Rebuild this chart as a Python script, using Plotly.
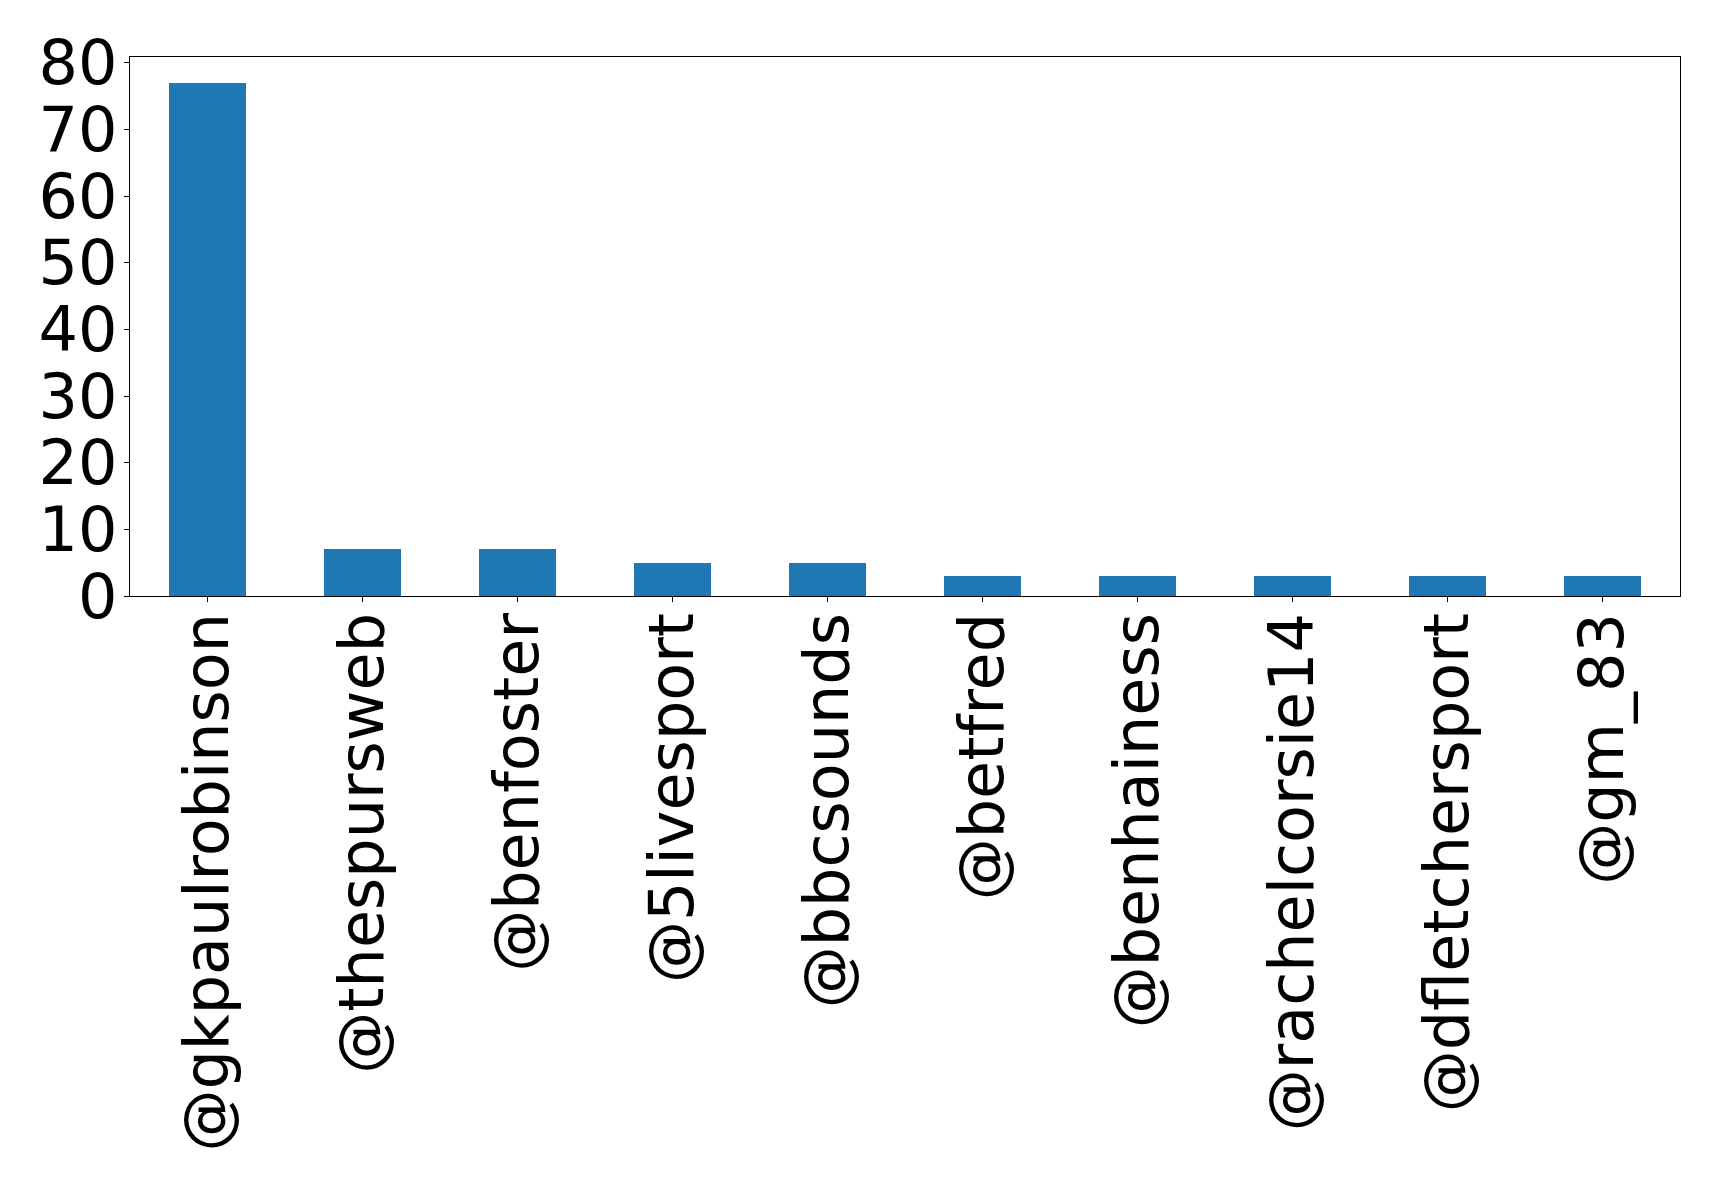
import plotly.graph_objects as go

handles = ["@gkpaulrobinson", "@thespursweb", "@benfoster", "@5livesport", "@bbcsounds",
           "@betfred", "@benhainess", "@rachelcorsie14", "@dfletchersport", "@gm_83"]
counts = [77, 7, 7, 5, 5, 3, 3, 3, 3, 3]
y_ticks = [0, 10, 20, 30, 40, 50, 60, 70, 80]

fig = go.Figure(go.Bar(
    x=list(range(len(handles))), y=counts, width=0.5,
    marker=dict(color="#1f77b4", line=dict(width=0)),
))

font = dict(family="DejaVu Sans", size=62, color="black")
fig.update_layout(
    width=1719, height=1188,
    margin=dict(l=129.5, r=39.3, t=57.3, b=592, autoexpand=False),
    plot_bgcolor="white", paper_bgcolor="white",
    showlegend=False, bargap=0,
    font=font,
)
fig.update_xaxes(
    range=[-0.5, len(handles) - 0.5],
    tickmode="array", tickvals=list(range(len(handles))), ticktext=handles,
    tickangle=-90, tickfont=font, ticklabelstandoff=-14,
    ticks="outside", ticklen=5, tickwidth=1.4, tickcolor="black",
    showline=True, linecolor="black", linewidth=1.4, mirror=True,
    showgrid=False, zeroline=False,
)
fig.update_yaxes(
    range=[0, 80.85],
    tickmode="array", tickvals=y_ticks, ticktext=[str(v) for v in y_ticks],
    tickfont=font, ticklabelstandoff=-6,
    ticks="outside", ticklen=5, tickwidth=1.4, tickcolor="black",
    showline=True, linecolor="black", linewidth=1.4, mirror=True,
    showgrid=False, zeroline=False,
)

fig.write_html("out.html", config={"displayModeBar": False},
               post_script="document.body.style.margin='0';")
